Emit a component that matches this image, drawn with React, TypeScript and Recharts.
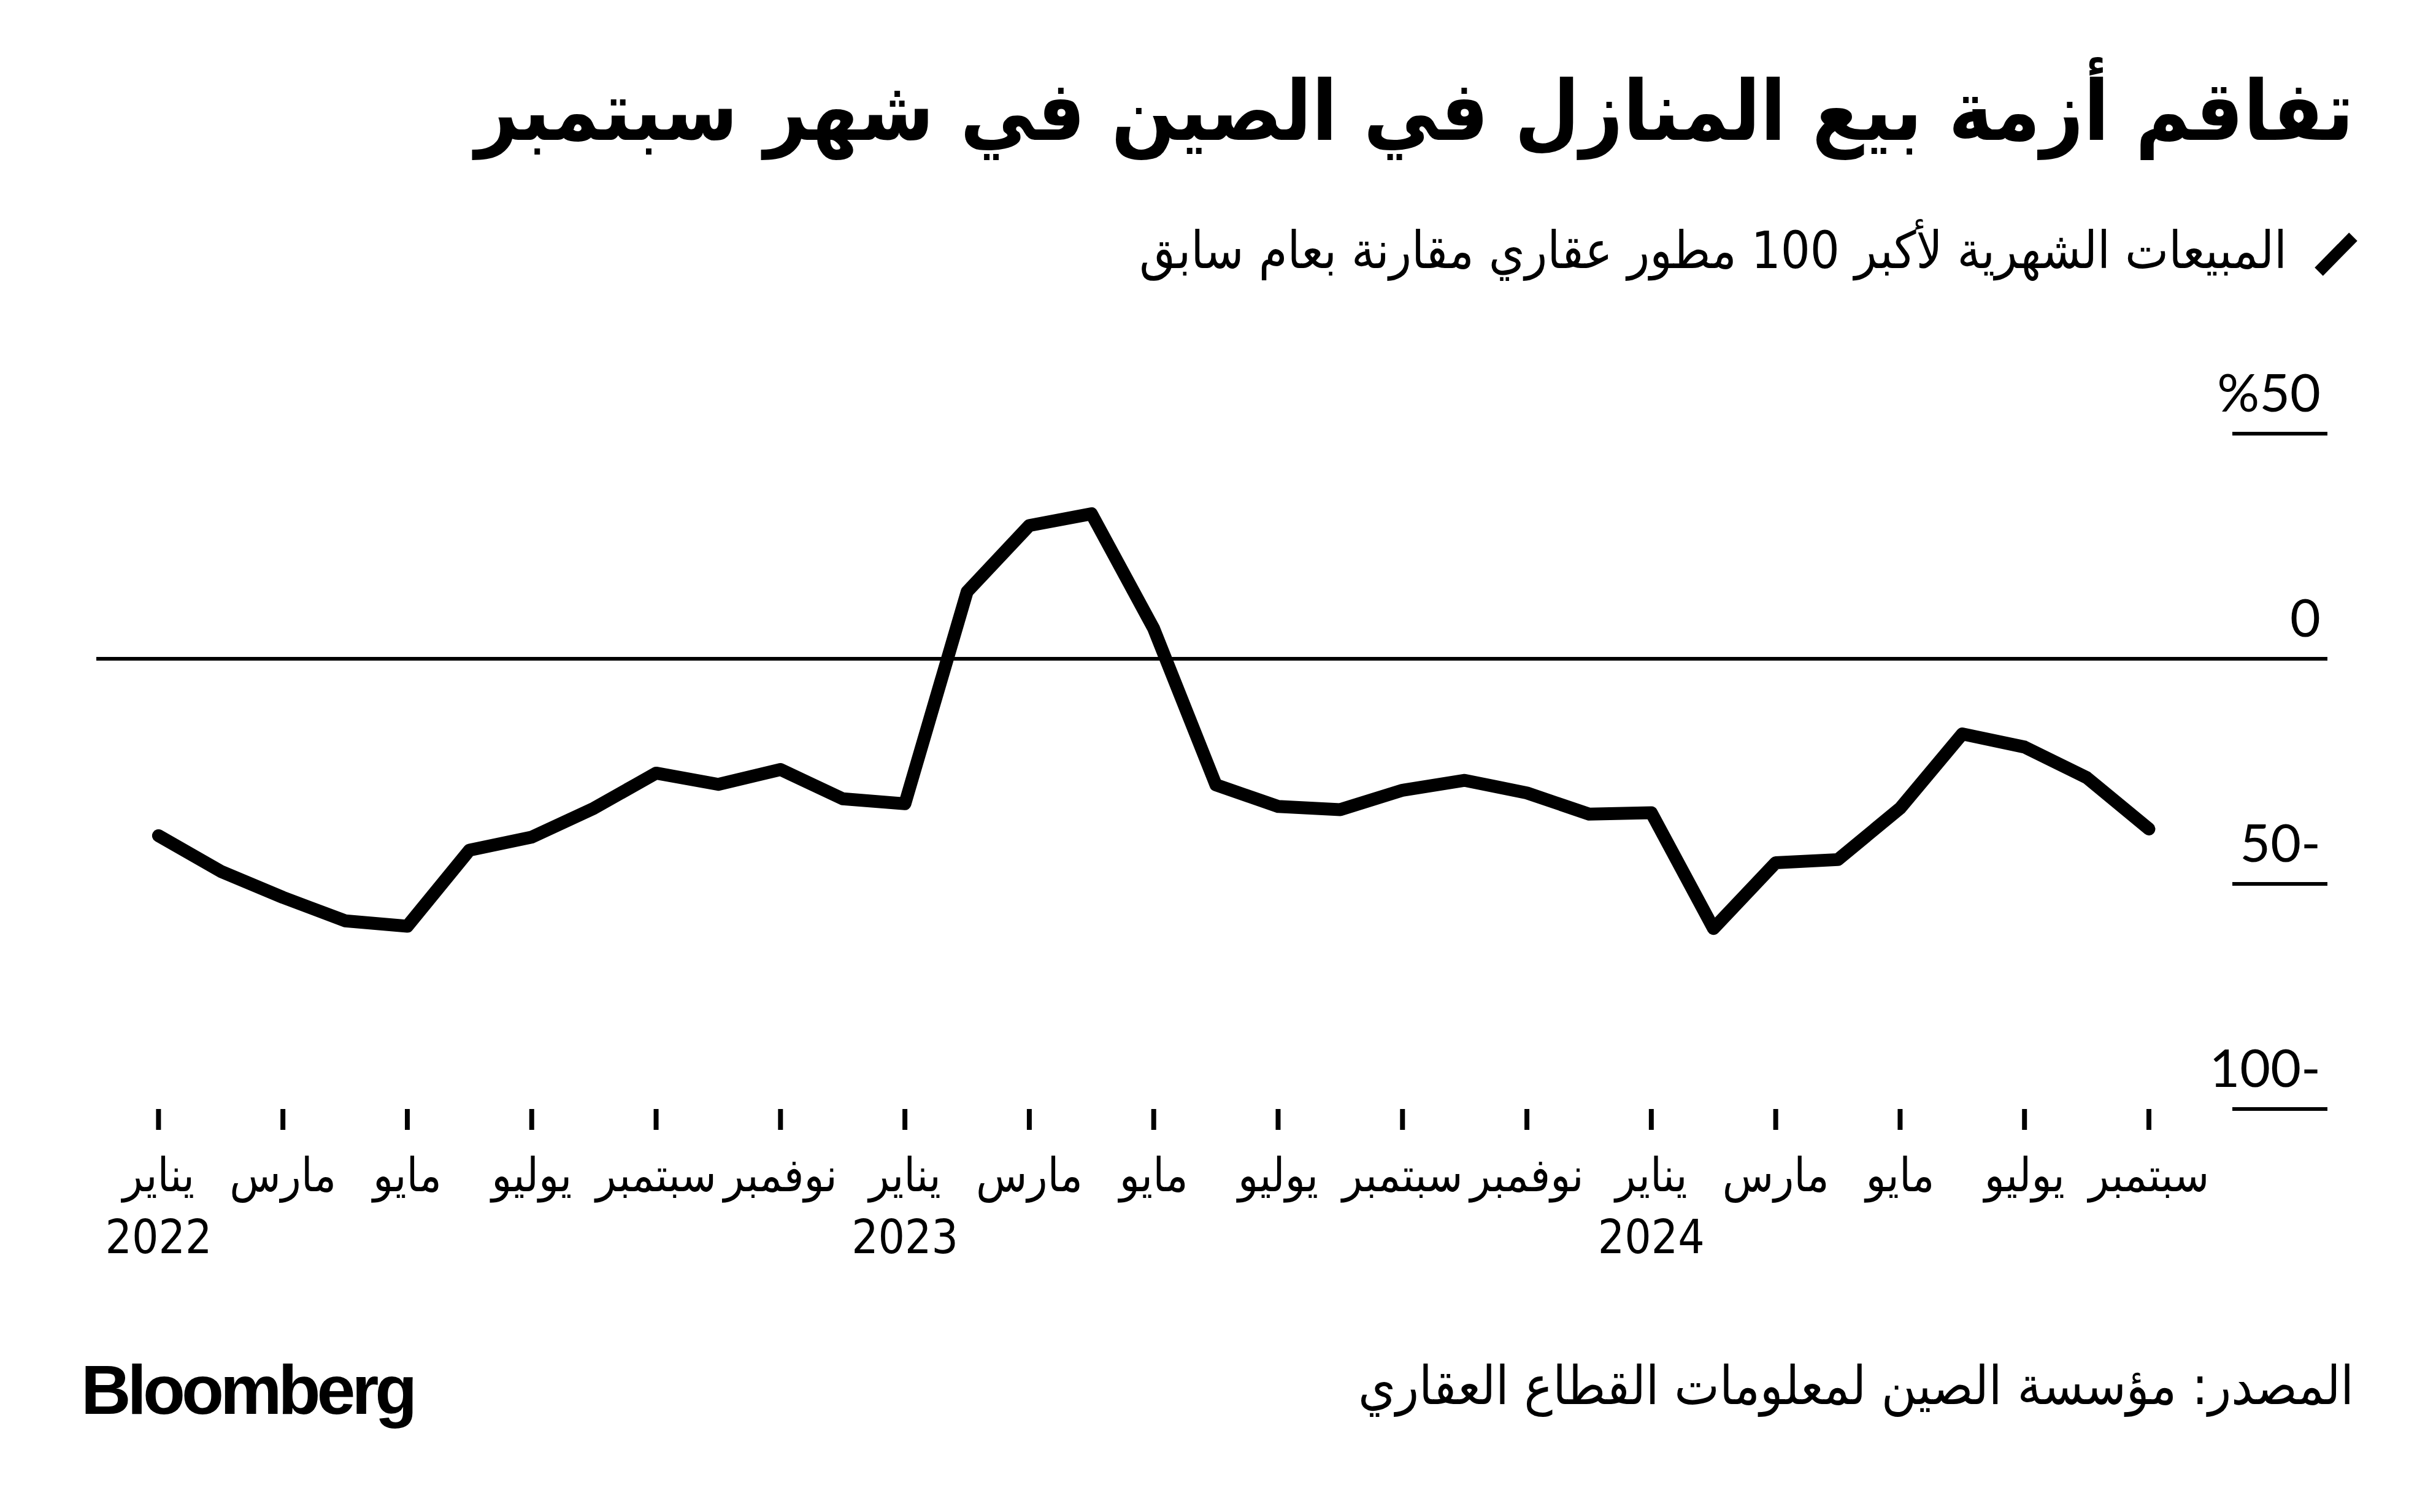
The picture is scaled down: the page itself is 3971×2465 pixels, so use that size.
import { LineChart, Line, XAxis, YAxis, ReferenceLine } from "recharts";

const months = [
  "2022-01", "2022-02", "2022-03", "2022-04", "2022-05", "2022-06",
  "2022-07", "2022-08", "2022-09", "2022-10", "2022-11", "2022-12",
  "2023-01", "2023-02", "2023-03", "2023-04", "2023-05", "2023-06",
  "2023-07", "2023-08", "2023-09", "2023-10", "2023-11", "2023-12",
  "2024-01", "2024-02", "2024-03", "2024-04", "2024-05", "2024-06",
  "2024-07", "2024-08", "2024-09",
];

// year-on-year change in monthly sales, top 100 developers (%)
const salesYoY = [
  -39.3, -47.2, -53.0, -58.2, -59.4, -42.5, -39.6, -33.2, -25.4, -27.9, -24.6, -31.1,
  -32.2, 14.9, 29.6, 32.2, 6.7, -28.0, -32.8, -33.5, -29.2, -27.0, -29.8, -34.5,
  -34.2, -59.9, -45.3, -44.6, -33.2, -16.7, -19.6, -26.4, -37.8,
];

const monthNames = [
  "يناير", "فبراير", "مارس", "أبريل", "مايو", "يونيو",
  "يوليو", "أغسطس", "سبتمبر", "أكتوبر", "نوفمبر", "ديسمبر",
];

const yTicks = [-100, -50, 0, 50];
const xTicks = months.map((_, i) => i).filter((i) => i % 2 === 0);

const data = months.map((m, i) => ({ idx: i, v: salesYoY[i] }));

const W = 3971;
const H = 2465;
const AR = "'DejaVu Sans Condensed', 'DejaVu Sans', sans-serif";
const LAT = "Lato, 'Open Sans', sans-serif";

const fmtY = (v: number) => (v > 0 ? `%${v}` : v < 0 ? `${-v}-` : "0");

function YTick(props: any) {
  const { x, y, payload } = props;
  return (
    <g>
      <line x1={x - 155} x2={x} y1={y} y2={y} stroke="#000" strokeWidth={6} />
      <text
        x={x - 11}
        y={y - 36}
        textAnchor="end"
        fontFamily={LAT}
        fontSize={86}
        fill="#000"
      >
        {fmtY(payload.value)}
      </text>
    </g>
  );
}

function XTick(props: any) {
  const { x, y, payload } = props;
  const key = months[payload.value];
  const [yr, mo] = key.split("-");
  const mIdx = Number(mo) - 1;
  return (
    <g>
      <text x={x} y={y + 100} textAnchor="middle" fontFamily={AR} fontSize={76} fill="#000">
        {monthNames[mIdx]}
      </text>
      {mIdx === 0 && (
        <text x={x} y={y + 201} textAnchor="middle" fontFamily={AR} fontSize={76} fill="#000">
          {yr}
        </text>
      )}
    </g>
  );
}

export default function App() {
  return (
    <div style={{ position: "absolute", left: 0, top: 0, width: W, height: H, background: "#fff" }}>
      <div style={{ position: "absolute", left: 0, top: 0 }}>
        <LineChart
          width={W}
          height={H}
          data={data}
          margin={{ top: 707, right: 0, left: 157, bottom: 357 }}
        >
          <XAxis
            dataKey="idx"
            type="number"
            domain={[-1, 34.87]}
            ticks={xTicks}
            axisLine={false}
            tickLine={{ stroke: "#000", strokeWidth: 8 }}
            tickSize={34}
            tickMargin={0}
            height={300}
            tick={<XTick />}
            interval={0}
          />
          <YAxis
            orientation="right"
            type="number"
            domain={[-100, 50]}
            ticks={yTicks}
            axisLine={false}
            tickLine={false}
            tickSize={0}
            tickMargin={0}
            width={177}
            tick={<YTick />}
            interval={0}
          />
          <ReferenceLine y={0} stroke="#000" strokeWidth={6} />
          <Line
            type="linear"
            dataKey="v"
            stroke="#000"
            strokeWidth={21}
            strokeLinecap="round"
            strokeLinejoin="round"
            dot={false}
            activeDot={false}
            isAnimationActive={false}
          />
        </LineChart>
      </div>
      <svg
        width={W}
        height={H}
        style={{ position: "absolute", left: 0, top: 0, pointerEvents: "none" }}
      >
        <text x={3837} y={228} textAnchor="end" fontFamily={AR} fontWeight={700} fontSize={136} fill="#000">
          تفاقم أزمة بيع المنازل في الصين في شهر سبتمبر
        </text>
        <line x1={3780} y1={443} x2={3836} y2={386} stroke="#000" strokeWidth={19} />
        <text x={3728} y={437} textAnchor="end" fontFamily={AR} fontSize={84} fill="#000">
          المبيعات الشهرية لأكبر 100 مطور عقاري مقارنة بعام سابق
        </text>
        <text x={3837} y={2289} textAnchor="end" fontFamily={AR} fontSize={87} fill="#000">
          المصدر: مؤسسة الصين لمعلومات القطاع العقاري
        </text>
        <text
          x={132}
          y={2305}
          fontFamily="'Liberation Sans', Arial, sans-serif"
          fontWeight={700}
          fontSize={113}
          letterSpacing={-6}
          fill="#000"
        >
          Bloomberg
        </text>
      </svg>
    </div>
  );
}
